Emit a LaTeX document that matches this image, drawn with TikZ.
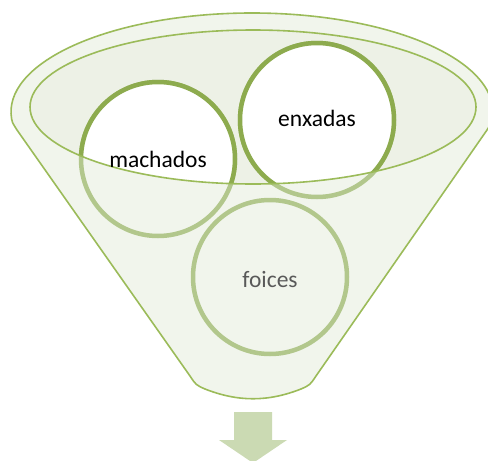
\documentclass[tikz,border=0pt]{standalone}
\usepackage{fontspec}
\setmainfont{Carlito}
\definecolor{funline}{HTML}{9BBB59}
\definecolor{funfill}{HTML}{F1F5EC}
\definecolor{innfill}{HTML}{EDF1E6}
\definecolor{ringdark}{HTML}{8DAB4E}
\definecolor{ringlight}{HTML}{B2C78C}
\definecolor{arrowfill}{HTML}{CBDAB3}
\definecolor{greytext}{HTML}{595959}
\tikzset{
  ringback/.style={circle, minimum size=154pt, inner sep=0pt, draw=ringlight, line width=4.5pt, fill=funfill},
  ringfront/.style={draw=ringdark, line width=4.5pt, fill=white},
  lbl/.style={font=\fontsize{23.5}{28}\selectfont, inner sep=0pt}
}
\begin{document}
\begin{tikzpicture}[x=1pt,y=-1pt]
\useasboundingbox (0,0) rectangle (488,461);
% funnel body
\path[fill=funfill, draw=funline, line width=1.6pt, line join=round]
  (190,376) -- (17,130) .. controls (12,122) .. (11.6,118.9)
  arc[start angle=176, end angle=364, x radius=241, y radius=99]
  .. controls (492,122) .. (487,130) -- (316,376)
  .. controls (310,385) .. (301,389)
  .. controls (268,402) and (238,402) .. (205,389)
  .. controls (196,385) .. (190,376) -- cycle;
% inner ellipse fill
\fill[innfill] (253,107) ellipse[x radius=223, y radius=77];
% circles (faded parts)
\node[ringback] (m) at (158,159) {};
\node[ringback] (e) at (317,120) {};
\node[ringback] (f) at (270,277) {};
% circles (parts inside the mouth)
\begin{scope}
  \clip (253,107) ellipse[x radius=223, y radius=77];
  \draw[ringfront] (m) circle[radius=77];
  \draw[ringfront] (e) circle[radius=77];
\end{scope}
% inner ellipse outline
\draw[funline, line width=1.6pt] (253,107) ellipse[x radius=223, y radius=77];
% labels
\node[lbl, text=black] at (m) {machados};
\node[lbl, text=black] at ([yshift=2pt]e) {enxadas};
\node[lbl, text=greytext] at ([yshift=-2pt]f) {foices};
% arrow
\fill[arrowfill] (234,412) -- (272,412) -- (272,440) -- (287,440) -- (253,463)
  -- (219,440) -- (234,440) -- cycle;
\end{tikzpicture}
\end{document}
